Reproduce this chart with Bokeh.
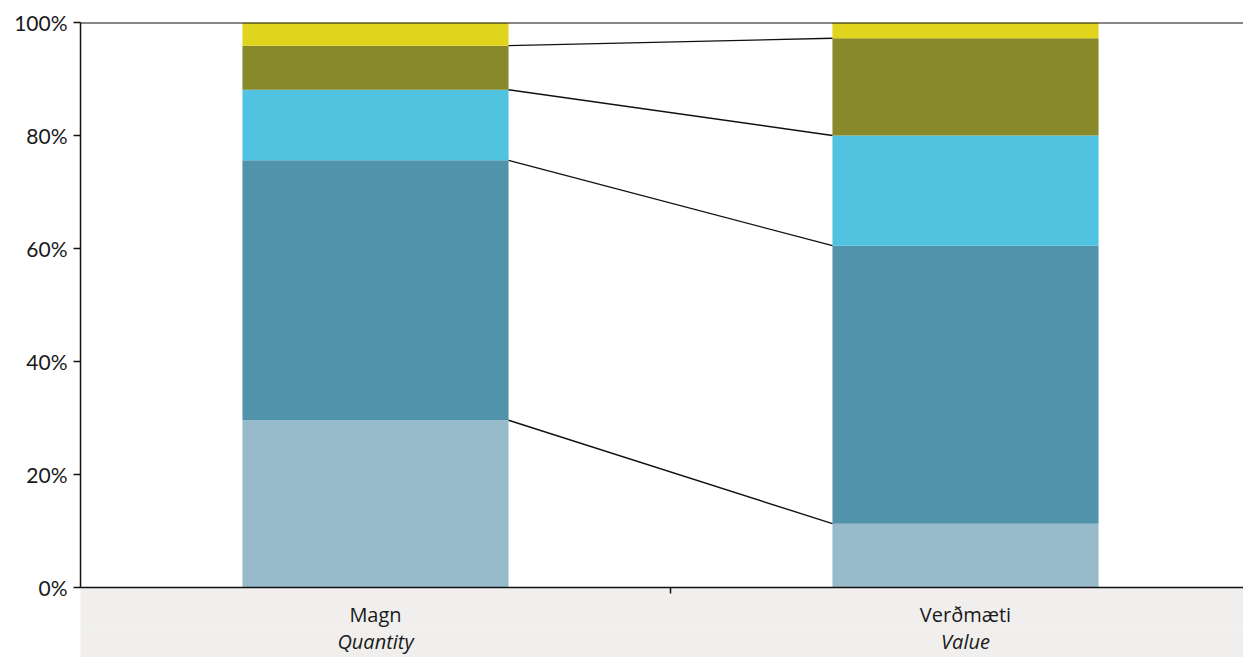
from bokeh.plotting import figure
from bokeh.models import (ColumnDataSource, Range1d, FixedTicker, LinearAxis,
                          PrintfTickFormatter, Span)
from bokeh.embed import file_html
from bokeh.resources import INLINE

# ---- data ----
categories = ["Magn", "Verðmæti"]
categories_en = ["Quantity", "Value"]
series = ["s1", "s2", "s3", "s4", "s5"]
s1 = [29.6, 11.3]
s2 = [46.0, 49.2]
s3 = [12.5, 19.5]
s4 = [7.8, 17.2]
s5 = [4.1, 2.8]
colors = ["#97BBCB", "#5093AA", "#4FC3E0", "#87892B", "#E0D41C"]
y_ticks = [0, 20, 40, 60, 80, 100]

xpos = [i + 0.5 for i in range(len(categories))]
bar_w = 0.451

src = ColumnDataSource(dict(x=xpos, s1=s1, s2=s2, s3=s3, s4=s4, s5=s5))

W, H = 1243, 657
frame_left = 80
x_end = (W - frame_left) / 590.0

p = figure(width=W, height=H, output_backend="svg", toolbar_location=None,
           x_range=Range1d(0, x_end), y_range=Range1d(0, 100),
           min_border_left=frame_left, min_border_right=0,
           min_border_top=22, min_border_bottom=0,
           x_axis_location=None)
p.outline_line_color = None
p.xgrid.visible = False
p.ygrid.visible = False
p.background_fill_color = "white"
p.border_fill_color = "white"

p.vbar_stack(series, x="x", width=bar_w, source=src, color=colors, line_color=None)

# connecting lines between stacked boundaries
cum = [[0.0, 0.0]]
for s in [s1, s2, s3, s4]:
    cum.append([cum[-1][0] + s[0], cum[-1][1] + s[1]])
x0 = [xpos[0] + bar_w / 2] * 4
x1 = [xpos[1] - bar_w / 2] * 4
y0 = [c[0] for c in cum[1:]]
y1 = [c[1] for c in cum[1:]]
p.segment(x0=x0, y0=y0, x1=x1, y1=y1, line_color="#111111", line_width=1.4)

p.add_layout(Span(location=100, dimension="width", line_color="#111111", line_width=2))

# y axis
ya = p.yaxis[0]
ya.ticker = FixedTicker(ticks=y_ticks)
ya.formatter = PrintfTickFormatter(format="%d%%")
ya.axis_line_color = "#111111"
ya.axis_line_width = 1.5
ya.major_tick_line_color = "#111111"
ya.major_tick_line_width = 1.5
ya.major_tick_out = 7
ya.major_tick_in = 0
ya.minor_tick_line_color = None
ya.major_label_standoff = 6
ya.major_label_text_font = "Lato"
ya.major_label_text_font_size = "21px"
ya.major_label_text_color = "#1a1a1a"

gray = "#F0EFED"

# x axis 1: line, separator tick, category names
xa1 = LinearAxis(ticker=FixedTicker(ticks=xpos, minor_ticks=[1.0]),
                 major_label_overrides={xpos[i]: categories[i] for i in range(len(xpos))})
xa1.axis_line_color = "#111111"
xa1.axis_line_width = 1.5
xa1.major_tick_line_color = None
xa1.major_tick_out = 0
xa1.major_tick_in = 0
xa1.minor_tick_line_color = "#111111"
xa1.minor_tick_line_width = 1.5
xa1.minor_tick_out = 6
xa1.minor_tick_in = 0
xa1.major_label_standoff = 7
xa1.major_label_text_font = "Open Sans"
xa1.major_label_text_font_size = "20px"
xa1.major_label_text_color = "#1a1a1a"
xa1.background_fill_color = gray
p.add_layout(xa1, "below")

# x axis 2: italic english names
xa2 = LinearAxis(ticker=FixedTicker(ticks=xpos),
                 major_label_overrides={xpos[i]: categories_en[i] for i in range(len(xpos))})
xa2.axis_line_color = None
xa2.major_tick_line_color = None
xa2.minor_tick_line_color = None
xa2.major_tick_out = 0
xa2.major_tick_in = 0
xa2.minor_tick_out = 0
xa2.minor_tick_in = 0
xa2.major_label_standoff = -3
xa2.major_label_text_font = "Open Sans"
xa2.major_label_text_font_style = "italic"
xa2.major_label_text_font_size = "20px"
xa2.major_label_text_color = "#1a1a1a"
xa2.background_fill_color = gray
p.add_layout(xa2, "below")

open("out.html", "w").write(file_html(p, INLINE))
